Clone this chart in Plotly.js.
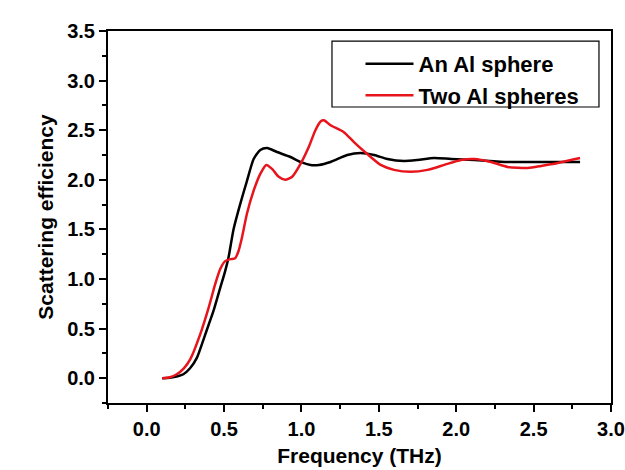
<!DOCTYPE html>
<html>
<head>
<meta charset="utf-8">
<script src="https://cdn.plot.ly/plotly-3.0.1.min.js"></script>
<style>html,body{margin:0;padding:0;background:#fff;}#chart{width:625px;height:470px;}</style>
</head>
<body>
<div id="chart"></div>
<script>
var seriesNames = ["An Al sphere", "Two Al spheres"];
var seriesColors = ["#000000", "#e8141c"];

var oneX = [0.10,0.15,0.20,0.237,0.28,0.324,0.378,0.432,0.475,0.507,0.529,0.561,0.605,0.648,0.691,0.734,0.778,0.842,0.929,0.994,1.058,1.112,1.188,1.296,1.382,1.469,1.555,1.663,1.75,1.857,1.966,2.117,2.333,2.549,2.80];
var oneY = [0.00,0.005,0.02,0.04,0.10,0.205,0.44,0.68,0.91,1.08,1.22,1.50,1.76,1.99,2.21,2.30,2.32,2.28,2.23,2.18,2.15,2.15,2.18,2.25,2.27,2.25,2.21,2.19,2.20,2.22,2.21,2.20,2.18,2.18,2.18];

var twoX = [0.10,0.15,0.194,0.24,0.281,0.345,0.40,0.443,0.475,0.507,0.54,0.572,0.594,0.616,0.648,0.691,0.734,0.773,0.81,0.853,0.896,0.94,0.994,1.047,1.09,1.125,1.145,1.188,1.274,1.339,1.425,1.512,1.598,1.706,1.815,1.922,2.03,2.117,2.225,2.333,2.463,2.549,2.657,2.80];
var twoY = [0.00,0.01,0.04,0.10,0.19,0.44,0.71,0.95,1.10,1.18,1.20,1.21,1.285,1.42,1.66,1.89,2.06,2.15,2.11,2.03,2.00,2.03,2.16,2.33,2.50,2.59,2.60,2.55,2.48,2.38,2.26,2.15,2.10,2.08,2.10,2.15,2.20,2.21,2.18,2.13,2.12,2.14,2.17,2.22];

var xTitle = "Frequency (THz)";
var yTitle = "Scattering efficiency";

var fontFam = "Liberation Sans, Arial, sans-serif";

var traces = [
  {x: oneX, y: oneY, name: seriesNames[0], mode: "lines", type: "scatter",
   line: {color: seriesColors[0], width: 2.5, shape: "spline", smoothing: 0.6}},
  {x: twoX, y: twoY, name: seriesNames[1], mode: "lines", type: "scatter",
   line: {color: seriesColors[1], width: 2.5, shape: "spline", smoothing: 0.6}}
];

var axisCommon = {
  showline: true, linecolor: "#000", linewidth: 2, mirror: true,
  ticks: "outside", ticklen: 7, tickwidth: 2, tickcolor: "#000",
  showgrid: false, zeroline: false, dtick: 0.5, tickformat: ".1f",
  tickfont: {family: fontFam, size: 20, color: "#000", weight: "bold"},
  minor: {dtick: 0.25, ticks: "outside", ticklen: 4, tickwidth: 2, tickcolor: "#000", showgrid: false}
};

var layout = {
  width: 625, height: 470,
  margin: {l: 108, r: 14, t: 31, b: 67},
  paper_bgcolor: "#fff", plot_bgcolor: "#fff",
  showlegend: true,
  xaxis: Object.assign({}, axisCommon, {
    range: [-0.25, 3.0], tick0: 0,
    title: {text: xTitle, font: {family: fontFam, size: 21, color: "#000", weight: "bold"}, standoff: 9}
  }),
  yaxis: Object.assign({}, axisCommon, {
    range: [-0.25, 3.5], tick0: 0,
    title: {text: yTitle, font: {family: fontFam, size: 21, color: "#000", weight: "bold"}, standoff: 8}
  }),
  legend: {
    x: 0.502, y: 0.968, xanchor: "left", yanchor: "top",
    bgcolor: "rgba(0,0,0,0)", borderwidth: 0,
    itemwidth: 48, tracegroupgap: 0,
    font: {family: fontFam, size: 22, color: "#000", weight: "bold"}
  },
  shapes: [
    {type: "rect", xref: "paper", yref: "paper", x0: 0.4453, x1: 0.9761, y0: 0.7957, y1: 0.973,
     line: {color: "#000", width: 1.2}, fillcolor: "rgba(0,0,0,0)"}
  ]
};

Plotly.newPlot("chart", traces, layout, {displayModeBar: false, staticPlot: true});
</script>
</body>
</html>
